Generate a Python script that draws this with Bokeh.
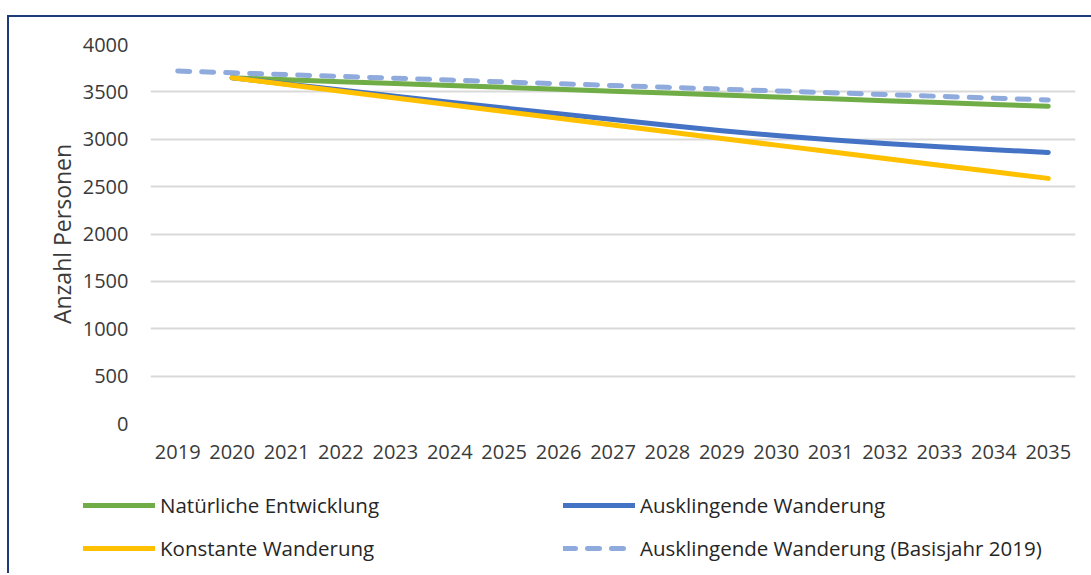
from bokeh.plotting import figure
from bokeh.models import (FactorRange, Range1d, Legend, LegendItem, SingleIntervalTicker)
from bokeh.layouts import column, row
from bokeh.embed import file_html
from bokeh.resources import INLINE

years = [str(y) for y in range(2019, 2036)]
years_proj = years[1:]

natuerlich = [3648, 3628, 3608, 3588, 3568, 3548, 3528, 3507, 3487, 3467, 3447, 3427, 3407, 3387, 3367, 3348]
ausklingend = [3648, 3584, 3520, 3455, 3390, 3330, 3268, 3208, 3148, 3090, 3040, 2995, 2955, 2920, 2890, 2861]
konstant = [3648, 3577, 3506, 3435, 3364, 3293, 3222, 3151, 3080, 3009, 2938, 2867, 2796, 2725, 2656, 2587]
basis2019 = [3720, 3701, 3682, 3663, 3644, 3625, 3605, 3586, 3567, 3548, 3529, 3510, 3491, 3472, 3453, 3434, 3414]

labels = ["Natürliche Entwicklung", "Ausklingende Wanderung",
          "Konstante Wanderung", "Ausklingende Wanderung (Basisjahr 2019)"]

FONT = "Open Sans"
TXT = "#3A3A3A"
GREEN, BLUE, YELLOW, LIGHT = "#70AD47", "#4472C4", "#FFC000", "#8FAADC"

xr = FactorRange(*years, range_padding=0)

p = figure(width=1082, height=458, output_backend="svg", toolbar_location=None,
           x_range=xr, y_range=Range1d(0, 4000),
           min_border_left=141, min_border_right=16, min_border_top=27, min_border_bottom=52)
p.outline_line_color = None
p.xgrid.grid_line_color = None
p.ygrid.grid_line_color = "#D9D9D9"
p.ygrid.grid_line_width = 2
p.yaxis.ticker = SingleIntervalTicker(interval=500)

for ax in (p.xaxis[0], p.yaxis[0]):
    ax.axis_line_color = None
    ax.major_tick_line_color = None
    ax.minor_tick_line_color = None
    ax.major_tick_out = 0
    ax.major_tick_in = 0
    ax.minor_tick_out = 0
    ax.major_label_text_font = FONT
    ax.major_label_text_font_size = "20px"
    ax.major_label_text_color = TXT
p.xaxis.major_label_standoff = 21
p.yaxis.major_label_standoff = 22
p.yaxis.axis_label = "Anzahl Personen"
p.yaxis.axis_label_text_font = FONT
p.yaxis.axis_label_text_font_size = "23px"
p.yaxis.axis_label_text_font_style = "normal"
p.yaxis.axis_label_text_color = TXT
p.yaxis.axis_label_standoff = 2

line_kw = dict(line_width=5, line_cap="round", line_join="round")
p.line(years_proj, natuerlich, line_color=GREEN, **line_kw)
p.line(years_proj, ausklingend, line_color=BLUE, **line_kw)
p.line(years_proj, konstant, line_color=YELLOW, **line_kw)
p.line(years, basis2019, line_color=LIGHT, line_dash="12 12", **line_kw)

# legend strip: same series drawn on a 0..1 scale (outside view), only their legend glyphs show
q = figure(width=1082, height=98, output_backend="svg", toolbar_location=None,
           x_range=FactorRange(*years, range_padding=0), y_range=Range1d(0, 1),
           x_axis_location=None, y_axis_location=None,
           min_border_left=0, min_border_right=0, min_border_top=0, min_border_bottom=0)
q.outline_line_color = None
q.grid.grid_line_color = None
g = q.line(years_proj, natuerlich, line_color=GREEN, **line_kw)
b = q.line(years_proj, ausklingend, line_color=BLUE, **line_kw)
y = q.line(years_proj, konstant, line_color=YELLOW, **line_kw)
d = q.line(years, basis2019, line_color=LIGHT, line_dash="12 12", **line_kw)

legend = Legend(items=[LegendItem(label=labels[0], renderers=[g]),
                       LegendItem(label=labels[1], renderers=[b]),
                       LegendItem(label=labels[2], renderers=[y]),
                       LegendItem(label=labels[3], renderers=[d])],
                orientation="horizontal", ncols=2,
                location=(74, 11), padding=0, margin=0, spacing=15,
                glyph_width=72, glyph_height=20, label_height=28, label_width=388,
                label_standoff=5, label_text_font=FONT, label_text_font_size="20.5px",
                label_text_color="#262626",
                border_line_alpha=0, background_fill_alpha=0)
q.add_layout(legend, "center")

layout = column(p, row(q), spacing=0)
layout.styles = {"border-top": "2px solid #1F3A78", "border-left": "2px solid #1F3A78",
                 "margin-top": "15px", "margin-left": "7px"}

open("out.html", "w").write(file_html(layout, INLINE))
